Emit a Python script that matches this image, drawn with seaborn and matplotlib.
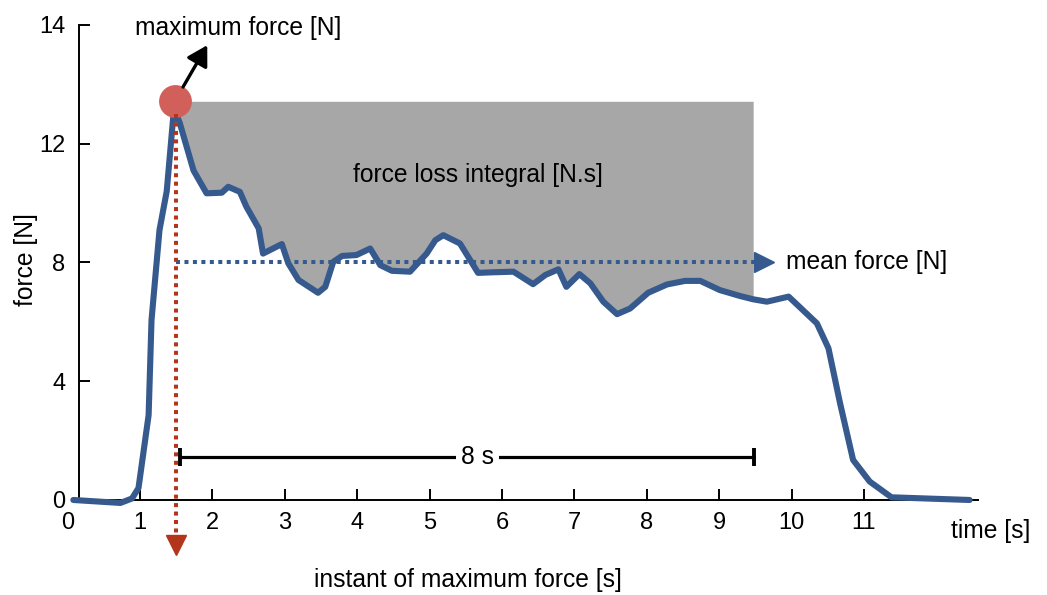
import numpy as np
import pandas as pd
import matplotlib
matplotlib.use("Agg")
import matplotlib.pyplot as plt
import seaborn as sns

# ---- data ----
time_s = [0.08, 0.73, 0.89, 0.98, 1.12, 1.16, 1.27, 1.37, 1.46, 1.50, 1.55, 1.74,
          1.92, 2.13, 2.22, 2.38, 2.47, 2.64, 2.70, 2.96, 3.05, 3.19, 3.46, 3.56,
          3.67, 3.79, 3.99, 4.18, 4.32, 4.48, 4.73, 4.96, 5.08, 5.19, 5.42, 5.67,
          5.88, 6.16, 6.43, 6.60, 6.78, 6.89, 7.07, 7.22, 7.40, 7.59, 7.77, 8.02,
          8.28, 8.53, 8.74, 9.01, 9.29, 9.47, 9.66, 9.96, 10.35, 10.51, 10.67,
          10.85, 11.08, 11.38, 12.46]
force_n = [0.0, -0.1, 0.05, 0.4, 2.86, 6.06, 9.09, 10.4, 12.9, 13.0, 12.7, 11.1,
           10.33, 10.35, 10.55, 10.38, 9.88, 9.15, 8.3, 8.62, 7.97, 7.41, 6.98, 7.18,
           8.02, 8.22, 8.25, 8.47, 7.91, 7.72, 7.69, 8.3, 8.75, 8.92, 8.64, 7.65,
           7.67, 7.69, 7.27, 7.58, 7.77, 7.18, 7.61, 7.30, 6.68, 6.26, 6.45, 6.98,
           7.26, 7.38, 7.38, 7.07, 6.87, 6.76, 6.68, 6.85, 5.95, 5.11, 3.26,
           1.35, 0.62, 0.09, 0.0]

peak_time = 1.50
peak_force_level = 13.43
window_end = 9.47
mean_force = 8.0
window_label = "8 s"

xtick_values = [0, 1, 2, 3, 4, 5, 6, 7, 8, 9, 10, 11]
xtick_labels = [str(v) for v in xtick_values]
ytick_values = [0, 4, 8, 12, 16]
ytick_labels = ["0", "4", "8", "12", "14"]

# ---- styling ----
sns.set_theme(style="white")
plt.rcParams["font.family"] = ["Liberation Sans", "DejaVu Sans"]
plt.rcParams["text.color"] = "black"
plt.rcParams["axes.labelcolor"] = "black"

BLUE = "#375a8e"
GRAY = "#a6a7a6"
CORAL = "#d1605a"
DARKRED = "#b3361c"
TXT = 17.7

fig = plt.figure(figsize=(10.47, 5.95), dpi=100)
ax = fig.add_axes([0.0645, 0.1597, 0.8713, 0.7983])

df = pd.DataFrame({"time": time_s, "force": force_n})
t = np.array(time_s)
f = np.array(force_n)

# grey force-loss area
mask = (t >= peak_time) & (t <= window_end)
ax.fill_between(t[mask], f[mask], peak_force_level, color=GRAY, lw=0, zorder=1)

# force curve
sns.lineplot(data=df, x="time", y="force", sort=False, estimator=None,
             color=BLUE, lw=4.4, ax=ax, zorder=3, clip_on=False)

# mean force dotted line with arrowhead
ax.plot([peak_time, window_end + 0.05], [mean_force, mean_force], color=BLUE,
        lw=2.9, linestyle=(0, (1, 1.1)), zorder=4)
ax.plot([window_end + 0.15], [mean_force], marker=">", ms=14, color=BLUE,
        mec=BLUE, zorder=4, clip_on=False)

# maximum force marker
ax.scatter([peak_time - 0.02], [peak_force_level], s=560, color=CORAL,
           zorder=5, linewidths=0)

# instant of maximum force dotted line with arrowhead
ax.plot([peak_time, peak_time], [13.0, -1.2], color=DARKRED, lw=2.9,
        linestyle=(0, (1, 1.1)), zorder=6, clip_on=False)
ax.plot([peak_time], [-1.52], marker="v", ms=14, color=DARKRED, mec=DARKRED,
        zorder=6, clip_on=False)

# arrow toward "maximum force" label
ax.annotate("", xy=(1.93, 15.32), xytext=(1.595, 13.91),
            arrowprops=dict(arrowstyle="-|>,head_length=0.6,head_width=0.35",
                            lw=2.4, color="black", mutation_scale=20,
                            shrinkA=0, shrinkB=0),
            annotation_clip=False, zorder=7)

# 8 s bracket
ax.plot([1.56, 9.48], [1.46, 1.46], color="black", lw=2.3, zorder=4,
        marker="|", ms=13, mew=2.8)
ax.text(5.66, 1.46, window_label, ha="center", va="center", fontsize=TXT,
        color="black", zorder=5,
        bbox=dict(boxstyle="square,pad=0.2", fc="white", ec="none"))

# text annotations
ax.text(0.93, 15.9, "maximum force [N]", ha="left", va="center", fontsize=TXT,
        clip_on=False)
ax.text(3.94, 10.95, "force loss integral [N.s]", ha="left", va="center",
        fontsize=TXT)
ax.text(9.92, 8.02, "mean force [N]", ha="left", va="center", fontsize=TXT)
ax.text(12.2, -1.04, "time [s]", ha="left", va="center", fontsize=TXT,
        clip_on=False)
ax.text(5.53, -2.69, "instant of maximum force [s]", ha="center", va="center",
        fontsize=TXT, clip_on=False)

# axes
ax.set_xlim(0, 12.6)
ax.set_ylim(0, 16)
ax.set_xticks(xtick_values)
ax.set_xticklabels(xtick_labels)
ax.set_yticks(ytick_values)
ax.set_yticklabels(ytick_labels)
ax.tick_params(axis="both", direction="in", length=8, width=1.4, colors="black",
               labelsize=17, left=True, bottom=True)
ax.tick_params(axis="x", pad=9)
ax.tick_params(axis="y", pad=10)
ax.xaxis.get_major_ticks()[0].tick1line.set_visible(False)

for side in ["top", "right"]:
    ax.spines[side].set_visible(False)
ax.spines["left"].set_position(("data", 0.159))
ax.spines["bottom"].set_bounds(0.159, 12.58)
for side in ["left", "bottom"]:
    ax.spines[side].set_linewidth(1.4)
    ax.spines[side].set_color("black")

ax.set_xlabel("")
ax.set_ylabel("force [N]", fontsize=TXT, color="black")
ax.yaxis.set_label_coords(-0.046, 0.507)
ax.yaxis.label.set_verticalalignment("center")
ax.grid(False)
ax.set_facecolor("white")

fig.savefig("out.png", dpi=100, facecolor="white")
